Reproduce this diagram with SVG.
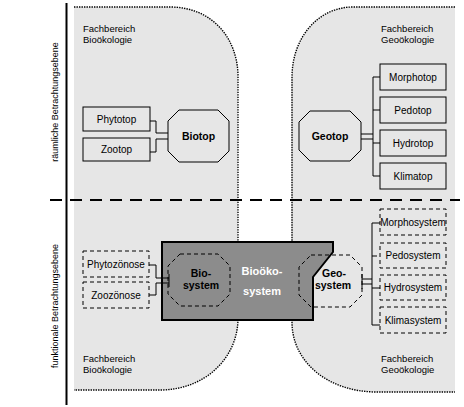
<svg xmlns="http://www.w3.org/2000/svg" width="464" height="407" viewBox="0 0 464 407">
<style>
text{font-family:'Liberation Sans',Arial,sans-serif;fill:#000}
.lbl{font-size:9.5px}
.axis{font-size:9px;text-anchor:middle}
.box{font-size:10px;text-anchor:middle}
.bold{font-weight:bold;text-anchor:middle;font-size:10.5px}
.white{font-weight:bold;text-anchor:middle;font-size:11px;fill:#fff}
.region{fill:#e6e6e6;stroke:none}
.dot{fill:none;stroke:#000;stroke-width:1.4;stroke-dasharray:1.4 1.1}
.sbox{fill:#e6e6e6;stroke:#000;stroke-width:1}
.dbox{fill:none;stroke:#000;stroke-width:1;stroke-dasharray:4 3}
.line{fill:none;stroke:#000;stroke-width:1}
</style>
<rect width="464" height="407" fill="#fff"/>
<g id="regions">
<path class="region" d="M74,7 H170 C212,7 238,38 238,77 V318 C238,358 205,390 160,390 H74 Z"/>
<path class="dot" d="M74,7 H170 C212,7 238,38 238,77 V318 C238,358 205,390 160,390 H74"/>
<path class="region" d="M455,7 H353 C318,7 292,38 292,77 V322 C292,362 328,392 377,392 H455 Z"/>
<path class="dot" d="M455,7 H353 C318,7 292,38 292,77 V322 C292,362 328,392 377,392 H455"/>
</g>
<g id="axes">
<line x1="66.5" y1="3" x2="66.5" y2="405" stroke="#000" stroke-width="2"/>
<line x1="50" y1="200" x2="460" y2="200" stroke="#000" stroke-width="2" stroke-dasharray="12 8"/>
<text class="axis" transform="translate(58,102) rotate(-90)">räumliche Betrachtungsebene</text>
<text class="axis" transform="translate(58,306) rotate(-90)">funktionale Betrachtungsebene</text>
</g>
<g id="labels">
<text class="lbl" x="83" y="32">Fachbereich</text>
<text class="lbl" x="83" y="43">Bioökologie</text>
<text class="lbl" x="381" y="32">Fachbereich</text>
<text class="lbl" x="381" y="43">Geoökologie</text>
<text class="lbl" x="83" y="362">Fachbereich</text>
<text class="lbl" x="83" y="373">Bioökologie</text>
<text class="lbl" x="381" y="362">Fachbereich</text>
<text class="lbl" x="381" y="373">Geoökologie</text>
</g>
<g id="phytotop"><rect class="sbox" x="83" y="107" width="67" height="24"/><text class="box" x="116.5" y="122.5">Phytotop</text></g>
<g id="zootop"><rect class="sbox" x="83" y="138" width="67" height="23"/><text class="box" x="116.5" y="153">Zootop</text></g>
<g id="biotop"><polygon class="sbox" points="179,110 218,110 229,121 229,151 218,162 179,162 168,151 168,121"/><text class="bold" x="198.5" y="140">Biotop</text></g>
<g id="geotop"><polygon class="sbox" points="310,111 350,111 361,122 361,150 350,161 310,161 299,150 299,122"/><text class="bold" x="330" y="140">Geotop</text></g>
<g id="morphotop"><rect class="sbox" x="380" y="64" width="66" height="26"/><text class="box" x="413" y="80.5">Morphotop</text></g>
<g id="pedotop"><rect class="sbox" x="380" y="97" width="66" height="26"/><text class="box" x="413" y="113.5">Pedotop</text></g>
<g id="hydrotop"><rect class="sbox" x="380" y="130" width="66" height="26"/><text class="box" x="413" y="146.5">Hydrotop</text></g>
<g id="klimatop"><rect class="sbox" x="380" y="163" width="66" height="26"/><text class="box" x="413" y="179.5">Klimatop</text></g>
<g id="phytozoenose"><rect class="dbox" x="83" y="251" width="66" height="26"/><text class="box" x="116" y="267.5">Phytozönose</text></g>
<g id="zoozoenose"><rect class="dbox" x="83" y="282" width="66" height="26"/><text class="box" x="116" y="298.5">Zoozönose</text></g>
<g id="biooekosystem"><path d="M162,242 H333 V252 L313,277 V320 H162 Z" fill="#8c8c8c" stroke="#000" stroke-width="2"/><text class="white" x="262" y="275">Bioöko-</text><text class="white" x="262" y="295">system</text></g>
<g id="biosystem"><polygon class="dbox" points="180,254 218,254 230,266 230,294 218,306 180,306 168,294 168,266"/><text class="bold" x="201" y="277">Bio-</text><text class="bold" x="201" y="289">system</text></g>
<g id="geosystem"><polygon class="dbox" points="311,255 350,255 362,267 362,295 350,307 311,307 299,295 299,267"/><text class="bold" x="334" y="277">Geo-</text><text class="bold" x="333" y="289">system</text></g>
<g id="morphosystem"><rect class="dbox" x="380" y="209" width="66" height="26"/><text class="box" x="413" y="225.5">Morphosystem</text></g>
<g id="pedosystem"><rect class="dbox" x="380" y="243" width="66" height="25"/><text class="box" x="413" y="259">Pedosystem</text></g>
<g id="hydrosystem"><rect class="dbox" x="380" y="275" width="66" height="25"/><text class="box" x="413" y="291">Hydrosystem</text></g>
<g id="klimasystem"><rect class="dbox" x="380" y="307" width="66" height="26"/><text class="box" x="413" y="323.5">Klimasystem</text></g>
<g id="connectors" class="line">
<path class="line" d="M150,121 H156 V133 H168 M150,152 H156 V139 H168"/>
<path class="line" d="M361,134 H373 M361,139 H373 M373,77 V176 M373,77 H380 M373,110 H380 M373,143 H380 M373,176 H380"/>
<path class="line" d="M149,265 H156 V278 H169 M149,295 H156 V283 H169 M169,274 V287"/>
<path class="line" d="M362,279 H372 M362,284 H372 M362,274 V289 M372,223 V325 M372,223 H380 M372,256 H377 M372,288 H380 M372,325 H380"/>
</g>
</svg>
